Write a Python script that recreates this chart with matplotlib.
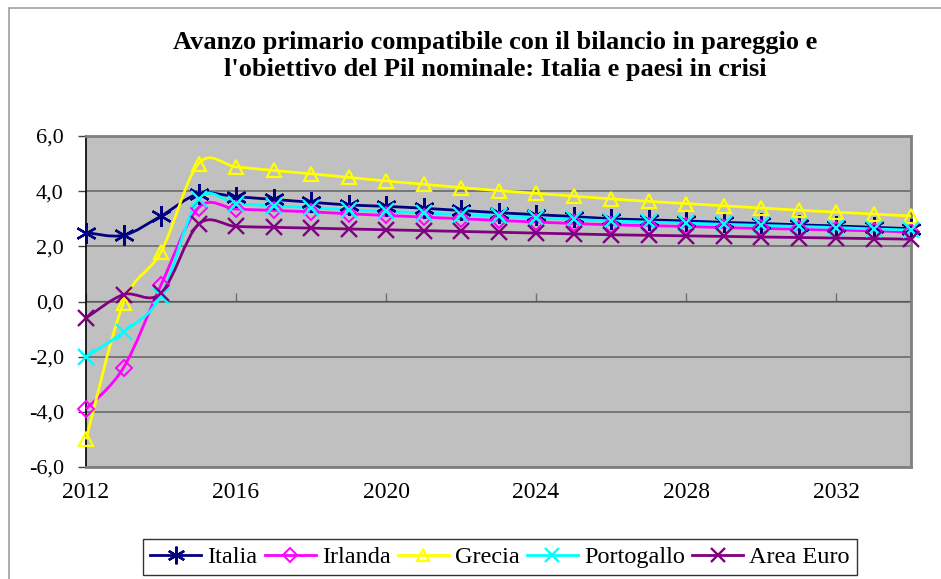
import numpy as np
import matplotlib
matplotlib.use("Agg")
import matplotlib.pyplot as plt
from matplotlib.path import Path
from matplotlib.patches import PathPatch, Rectangle
from matplotlib.lines import Line2D
from matplotlib.ticker import FuncFormatter

years = list(range(2012, 2035))
italia = [2.5, 2.4, 3.1, 3.9, 3.8, 3.7, 3.6, 3.5, 3.45, 3.38, 3.3, 3.22, 3.15, 3.08,
          3.0, 2.96, 2.92, 2.87, 2.83, 2.78, 2.74, 2.69, 2.64]
irlanda = [-3.9, -2.4, 0.6, 3.4, 3.35, 3.3, 3.25, 3.18, 3.12, 3.06, 3.0, 2.94, 2.88, 2.83,
           2.78, 2.75, 2.72, 2.68, 2.65, 2.62, 2.59, 2.56, 2.52]
grecia = [-5.0, -0.05, 1.8, 5.0, 4.88, 4.75, 4.63, 4.5, 4.37, 4.25, 4.13, 4.02, 3.92, 3.82,
          3.72, 3.63, 3.55, 3.47, 3.39, 3.31, 3.24, 3.17, 3.1]
portogallo = [-2.0, -1.1, 0.2, 3.7, 3.55, 3.47, 3.4, 3.33, 3.27, 3.21, 3.15, 3.09, 3.03, 2.98,
              2.92, 2.88, 2.84, 2.8, 2.76, 2.72, 2.68, 2.63, 2.59]
area_euro = [-0.6, 0.25, 0.3, 2.8, 2.72, 2.69, 2.66, 2.63, 2.6, 2.57, 2.54, 2.51, 2.48, 2.45,
             2.42, 2.4, 2.38, 2.36, 2.34, 2.32, 2.3, 2.28, 2.26]
series_names = ["Italia", "Irlanda", "Grecia", "Portogallo", "Area Euro"]
title = "Avanzo primario compatibile con il bilancio in pareggio e\nl'obiettivo del Pil nominale: Italia e paesi in crisi"

styles = [
    dict(color="#000080", marker=(6, 2, 0), ms=15, mew=1.7),
    dict(color="#FF00FF", marker="D", ms=8, mew=1.4),
    dict(color="#FFFF00", marker="^", ms=10, mew=1.6),
    dict(color="#00FFFF", marker="x", ms=12, mew=1.7),
    dict(color="#800080", marker="x", ms=12, mew=1.7),
]

plt.rcParams["font.family"] = ["Liberation Serif", "DejaVu Serif"]

fig = plt.figure(figsize=(9.41, 5.79), dpi=100)
fig.patches.append(Rectangle((9 / 941, -0.1), 1.2, 1.1 - 8 / 579, transform=fig.transFigure,
                             fill=False, edgecolor="#A0A0A0", lw=1.2))
ax = fig.add_axes([86 / 941, 1 - 467 / 579, (911 - 86) / 941, (467 - 136) / 579])
ax.set_facecolor("#C0C0C0")


def smooth_path(x, y):
    x = np.asarray(x, float)
    y = np.asarray(y, float)
    n = len(x)
    verts = [(x[0], y[0])]
    codes = [Path.MOVETO]
    for i in range(n - 1):
        p0 = np.array([x[max(i - 1, 0)], y[max(i - 1, 0)]])
        p1 = np.array([x[i], y[i]])
        p2 = np.array([x[i + 1], y[i + 1]])
        p3 = np.array([x[min(i + 2, n - 1)], y[min(i + 2, n - 1)]])
        c1 = p1 + (p2 - p0) / 6.0
        c2 = p2 - (p3 - p1) / 6.0
        verts += [tuple(c1), tuple(c2), tuple(p2)]
        codes += [Path.CURVE4] * 3
    return Path(verts, codes)


data = [italia, irlanda, grecia, portogallo, area_euro]
handles = []
for name, vals, st in zip(series_names, data, styles):
    patch = PathPatch(smooth_path(years, vals), fill=False, edgecolor=st["color"], lw=2.0,
                      zorder=3, clip_on=False)
    ax.add_patch(patch)
    ax.plot(years, vals, linestyle="none", marker=st["marker"], ms=st["ms"],
            mec=st["color"], mfc="none", mew=st["mew"], zorder=4, clip_on=False)
    handles.append(Line2D([], [], color=st["color"], lw=2.0, marker=st["marker"],
                          ms=st["ms"] * 0.85, mec=st["color"], mfc="none", mew=st["mew"]))

ax.set_xlim(2012, 2034)
ax.set_ylim(-6, 6)
ax.set_yticks(np.arange(-6, 6.1, 2))
ax.yaxis.set_major_formatter(FuncFormatter(lambda v, p: f"{v:.1f}".replace(".", ",")))
ax.tick_params(axis="y", direction="out", length=6, width=1, color="#404040",
               labelsize=16, pad=10)
ax.yaxis.grid(True, color="#6A6A6A", lw=1.2)
ax.set_axisbelow(True)

ax.set_xticks(range(2012, 2035, 4))
ax.tick_params(axis="x", length=0, labelsize=17, pad=11)
for s in ["top", "right", "bottom"]:
    ax.spines[s].set_color("#808080")
    ax.spines[s].set_linewidth(2)
ax.spines["left"].set_color("black")
ax.spines["left"].set_linewidth(1.2)

sec = ax.secondary_xaxis(0.5)
sec.set_xticks(range(2012, 2035, 4))
sec.set_xticklabels([])
sec.tick_params(axis="x", direction="out", length=6, width=1, color="#707070")
sec.spines["bottom"].set_color("black")
sec.spines["bottom"].set_linewidth(1.2)

fig.text(495 / 941, 1 - 56 / 579, title, ha="center", va="center", fontsize=19,
         fontweight="bold", linespacing=1.2)

leg = fig.legend(handles, series_names, loc="center", bbox_to_anchor=(500 / 941, 1 - 557 / 579),
                 ncol=5, fontsize=17.5, frameon=True, fancybox=False, edgecolor="black",
                 handlelength=2.1, handletextpad=0.25, columnspacing=0.3, borderpad=0.3,
                 borderaxespad=0)
leg.get_frame().set_linewidth(1.0)

fig.savefig("out.png", dpi=100)
